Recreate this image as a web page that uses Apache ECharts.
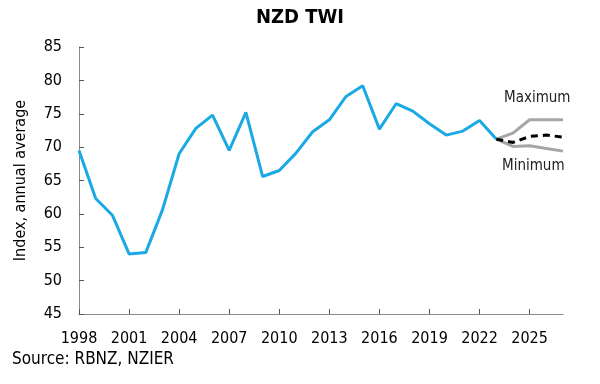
<!DOCTYPE html>
<html>
<head>
<meta charset="utf-8">
<script src="https://cdn.jsdelivr.net/npm/echarts@6/dist/echarts.min.js"></script>
<style>html,body{margin:0;padding:0;background:#fff;}#c{width:600px;height:384px;}</style>
</head>
<body>
<div id="c"></div>
<script>
var years = [];
for (var y = 1998; y <= 2027; y++) years.push(String(y));

// NZD TWI annual average, 1998-2023 (actual)
var twiActual = [69.5, 62.3, 59.8, 54.0, 54.2, 60.6, 69.0, 72.8, 74.8, 69.5,
                 75.2, 65.6, 66.5, 69.1, 72.3, 74.1, 77.6, 79.2, 72.7, 76.5,
                 75.4, 73.5, 71.8, 72.4, 74.0, 71.2];
// Forecasts 2023-2027
var fcYears = ['2023', '2024', '2025', '2026', '2027'];
var fcMax = [71.2, 72.1, 74.1, 74.1, 74.1];
var fcMin = [71.2, 70.1, 70.2, 69.8, 69.4];
var fcMid = [71.2, 70.7, 71.6, 71.8, 71.5];

var yTicks = [45, 50, 55, 60, 65, 70, 75, 80, 85];

function pairs(xs, vs) { return xs.map(function (x, i) { return [x, vs[i]]; }); }

var FONT = '"DejaVu Sans Condensed", "DejaVu Sans", sans-serif';
var AXIS_COLOR = '#8c8c8c';
var chart = echarts.init(document.getElementById('c'), null, {renderer: 'canvas'});
chart.setOption({
  animation: false,
  backgroundColor: '#ffffff',
  title: {
    text: 'NZD TWI', left: 'center', top: 3,
    textStyle: {fontFamily: FONT, fontSize: 20, fontWeight: 'bold', color: '#000'}
  },
  grid: {left: 79, right: 37, top: 47, bottom: 70},
  xAxis: {
    type: 'category', data: years, boundaryGap: false,
    axisLine: {lineStyle: {color: AXIS_COLOR, width: 1}},
    axisTick: {show: true, inside: true, length: 5, interval: 2, lineStyle: {color: '#555'}},
    axisLabel: {interval: 2, margin: 17, fontFamily: FONT, fontSize: 16, color: '#000'},
    splitLine: {show: false}
  },
  yAxis: {
    type: 'value', min: yTicks[0], max: yTicks[yTicks.length - 1], interval: 5,
    name: 'Index, annual average', nameLocation: 'middle', nameGap: 50,
    nameTextStyle: {fontFamily: FONT, fontSize: 16, color: '#000'},
    axisLine: {show: true, lineStyle: {color: AXIS_COLOR, width: 1}},
    axisTick: {show: true, inside: true, length: 5, lineStyle: {color: '#555'}},
    axisLabel: {margin: 17, fontFamily: FONT, fontSize: 16, color: '#000'},
    splitLine: {show: false}
  },
  series: [
    {type: 'line', data: pairs(fcYears, fcMax), symbol: 'none', z: 2,
     lineStyle: {color: '#a6a6a6', width: 3}},
    {type: 'line', data: pairs(fcYears, fcMin), symbol: 'none', z: 2,
     lineStyle: {color: '#a6a6a6', width: 3}},
    {type: 'line', data: pairs(years.slice(0, twiActual.length), twiActual), symbol: 'none', z: 3,
     lineStyle: {color: '#1aa9e5', width: 3}},
    {type: 'line', data: pairs(fcYears, fcMid), symbol: 'none', z: 4,
     lineStyle: {color: '#000', width: 3, type: [7, 5]}}
  ],
  graphic: [
    {type: 'text', left: 504, top: 91, style: {text: 'Maximum', fontFamily: FONT, fontSize: 15, fill: '#222'}},
    {type: 'text', left: 502, top: 159, style: {text: 'Minimum', fontFamily: FONT, fontSize: 15, fill: '#222'}},
    {type: 'text', left: 12, top: 351, style: {text: 'Source: RBNZ, NZIER', fontFamily: FONT, fontSize: 17, fill: '#000'}}
  ]
});
</script>
</body>
</html>
